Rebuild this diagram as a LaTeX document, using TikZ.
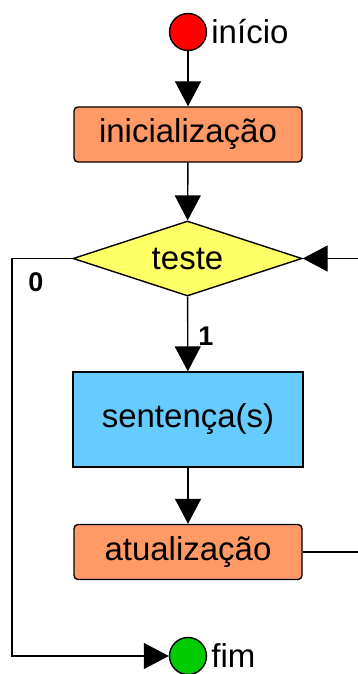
\documentclass[tikz,border=0pt]{standalone}
\usepackage{fontspec}
\setmainfont{Liberation Sans}
\usetikzlibrary{arrows.meta,shapes.geometric}
\definecolor{boxorange}{RGB}{255,153,102}
\definecolor{boxyellow}{RGB}{255,255,102}
\definecolor{boxblue}{RGB}{102,204,255}
\definecolor{startred}{RGB}{255,0,0}
\definecolor{endgreen}{RGB}{0,204,0}
\begin{document}
\begin{tikzpicture}[x=1pt,y=-1pt,
  every node/.style={font=\fontsize{33}{38}\selectfont, inner sep=0pt},
  conn/.style={line width=1.4pt, -{Triangle[length=25pt,width=26pt]}},
  plain/.style={line width=1.4pt},
  procbox/.style={draw, line width=1.4pt, rounded corners=4pt, fill=boxorange, minimum width=228pt, minimum height=55pt},
  stmtbox/.style={draw, line width=1.4pt, fill=boxblue, minimum width=230pt, minimum height=95pt},
  decbox/.style={draw, line width=1.4pt, diamond, aspect=3.05, fill=boxyellow, minimum width=229pt, minimum height=75pt, inner sep=0pt},
  term/.style={draw, line width=1.4pt, circle, minimum size=37pt},
  lbl/.style={font=\fontsize{27}{30}\selectfont\bfseries}]
\useasboundingbox (0,0) rectangle (358,674);
\node[term, fill=startred] (start) at (188,32) {};
\node[anchor=west] (startlbl) at ([xshift=4pt]start.east) {início};
\node[procbox] (init) at (188,134.5) {inicialização};
\node[decbox] (test) at (187.5,258.5) {teste};
\node[stmtbox] (stmt) at (188,419.5) {sentença(s)};
\node[procbox] (upd) at (188,552) {atualização};
\node[term, fill=endgreen] (end) at (188,656) {};
\node[anchor=west] (endlbl) at ([xshift=4pt]end.east) {fim};
\coordinate (rtop) at (358,258.5);
\coordinate (rbot) at (358,552);
\coordinate (lcorner) at (12,258.5);
\coordinate (lbottom) at (12,656);
\draw[conn] (start) -- (init);
\draw[conn] (init) -- (test);
\draw[conn] (test) -- (stmt);
\draw[conn] (stmt) -- (upd);
\draw[plain] (upd.east) -- (rbot);
\draw[conn] (rtop) -- (test.east);
\draw[conn] (test.west) -- (lcorner) -- (lbottom) -- (end.west);
\node[lbl] (zero) at (36,282) {0};
\node[lbl] (one) at (206,336) {1};
\end{tikzpicture}
\end{document}
